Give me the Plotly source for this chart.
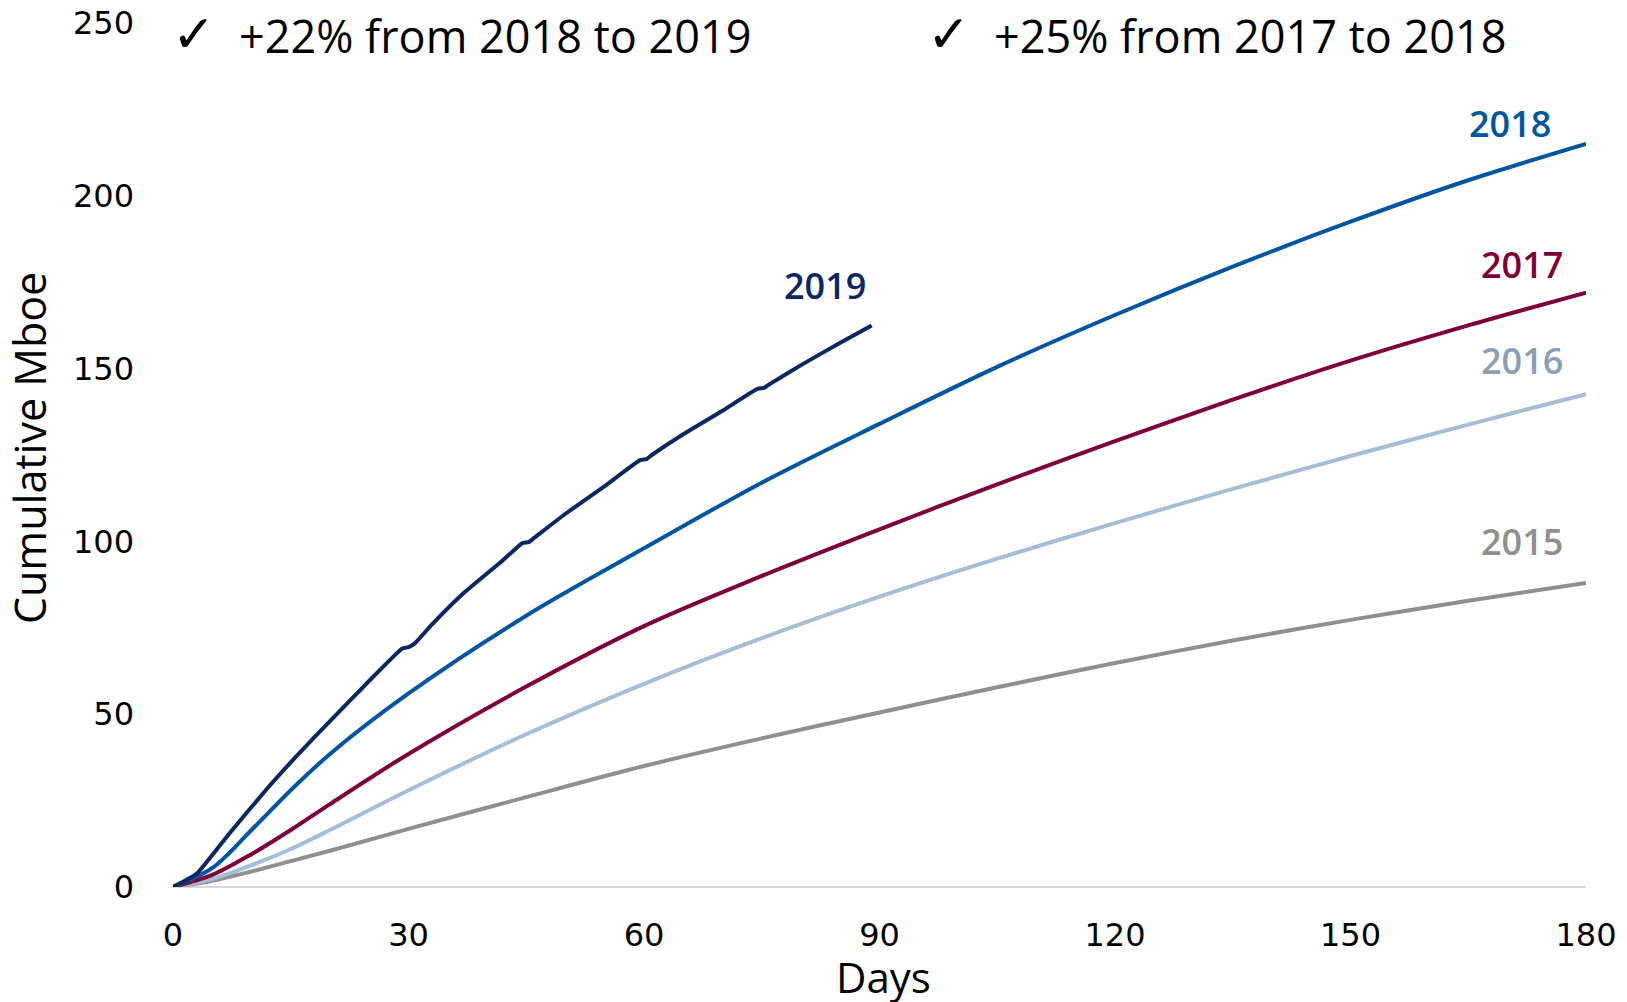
import plotly.graph_objects as go

days_2019 = [0, 3, 7, 12, 16, 20, 24.5, 29.2, 30, 30.8, 33, 37, 42, 44.5, 45.3, 46, 50, 55, 59.5, 60.3, 61, 65, 70, 74.5, 75.3, 76, 80, 85, 89]
mboe_2019 = [0, 3.8, 15, 28.5, 38.5, 48, 58.5, 69, 69.4, 70.5, 76, 85, 94.5, 99.5, 99.8, 101, 108, 116, 123.5, 123.8, 125, 131, 137.8, 144.2, 144.4, 145.5, 151, 157.5, 162.5]

days = [0, 5, 10, 15, 20, 30, 45, 60, 75, 90, 105, 120, 135, 150, 165, 180]
mboe_2018 = [0, 5.5, 16.5, 28, 38.5, 56, 78.5, 98, 117, 134, 150.5, 165.5, 179.5, 192.5, 204.5, 215]
mboe_2017 = [0, 3.5, 9.5, 16.5, 24, 38.5, 58, 75.5, 90, 103.5, 116.5, 129, 141, 152.3, 162.5, 172]
mboe_2016 = [0, 2.3, 6.3, 11, 16.5, 28, 44.2, 58.8, 72, 84, 95, 105.3, 115.2, 124.7, 133.8, 142.6]
mboe_2015 = [0, 1.8, 4.5, 7.5, 10.5, 16.8, 26, 35, 43, 50.5, 57.8, 64.8, 71.3, 77.3, 82.8, 88]

years = ["2015", "2016", "2017", "2018", "2019"]
xs = [days, days, days, days, days_2019]
ys = [mboe_2015, mboe_2016, mboe_2017, mboe_2018, mboe_2019]
line_colors = ["#8F8F8F", "#A5BDD5", "#7E0038", "#0055A0", "#0C2660"]
label_colors = ["#8F8F8F", "#8A9FB6", "#7E0038", "#0055A0", "#0C2660"]
label_x = [171.9, 171.9, 171.9, 170.3, 83.1]
label_y = [100.0, 152.3, 180.0, 221.0, 174.0]

fig = go.Figure()
for i, name in enumerate(years):
    fig.add_trace(go.Scatter(x=xs[i], y=ys[i], mode="lines", name=name,
                             line=dict(color=line_colors[i], width=4, shape="spline",
                                       smoothing=0.4 if name == "2019" else 0.9)))
    fig.add_annotation(x=label_x[i], y=label_y[i], text=name, showarrow=False,
                       font=dict(family="Open Sans", size=36, color=label_colors[i], weight=600))

notes = ["+22% from 2018 to 2019", "+25% from 2017 to 2018"]
check_x = [2.65, 98.9]
for txt, cx in zip(notes, check_x):
    fig.add_annotation(x=cx, y=246.8, text="✓", showarrow=False, xanchor="center",
                       font=dict(family="DejaVu Sans", size=52, color="#000000"))
    fig.add_annotation(x=cx + 5.45, y=246.5, text=txt, showarrow=False, xanchor="left",
                       font=dict(family="Open Sans", size=45, color="#000000"))

fig.add_annotation(xref="paper", yref="paper", x=(883 - 173) / 1413, y=-0.104,
                   text="Days", showarrow=False, xanchor="center", yanchor="middle",
                   font=dict(family="Open Sans", size=42, color="#000000"))
fig.add_annotation(xref="paper", yref="paper", x=-0.1019, y=0.508, textangle=-90,
                   text="Cumulative Mboe", showarrow=False, xanchor="center", yanchor="middle",
                   font=dict(family="Open Sans", size=43, color="#000000"))

fig.update_layout(
    width=1627, height=1002,
    margin=dict(l=173, r=41, t=23, b=115),
    paper_bgcolor="white", plot_bgcolor="white",
    showlegend=False,
    font=dict(family="Open Sans", color="#000000"),
)
fig.update_xaxes(range=[0, 180], tickvals=[0, 30, 60, 90, 120, 150, 180],
                 showgrid=False, zeroline=False, showline=False, automargin=False,
                 ticks="", ticklabelstandoff=26,
                 tickfont=dict(size=32, family="DejaVu Sans", color="#000000"))
fig.update_yaxes(range=[0, 250], tickvals=[0, 50, 100, 150, 200, 250],
                 showgrid=False, zeroline=True, zerolinecolor="#D9D9D9", zerolinewidth=2,
                 showline=False, automargin=False, ticks="", ticklabelstandoff=38,
                 tickfont=dict(size=32, family="DejaVu Sans", color="#000000"))

fig.write_html("out.html")
